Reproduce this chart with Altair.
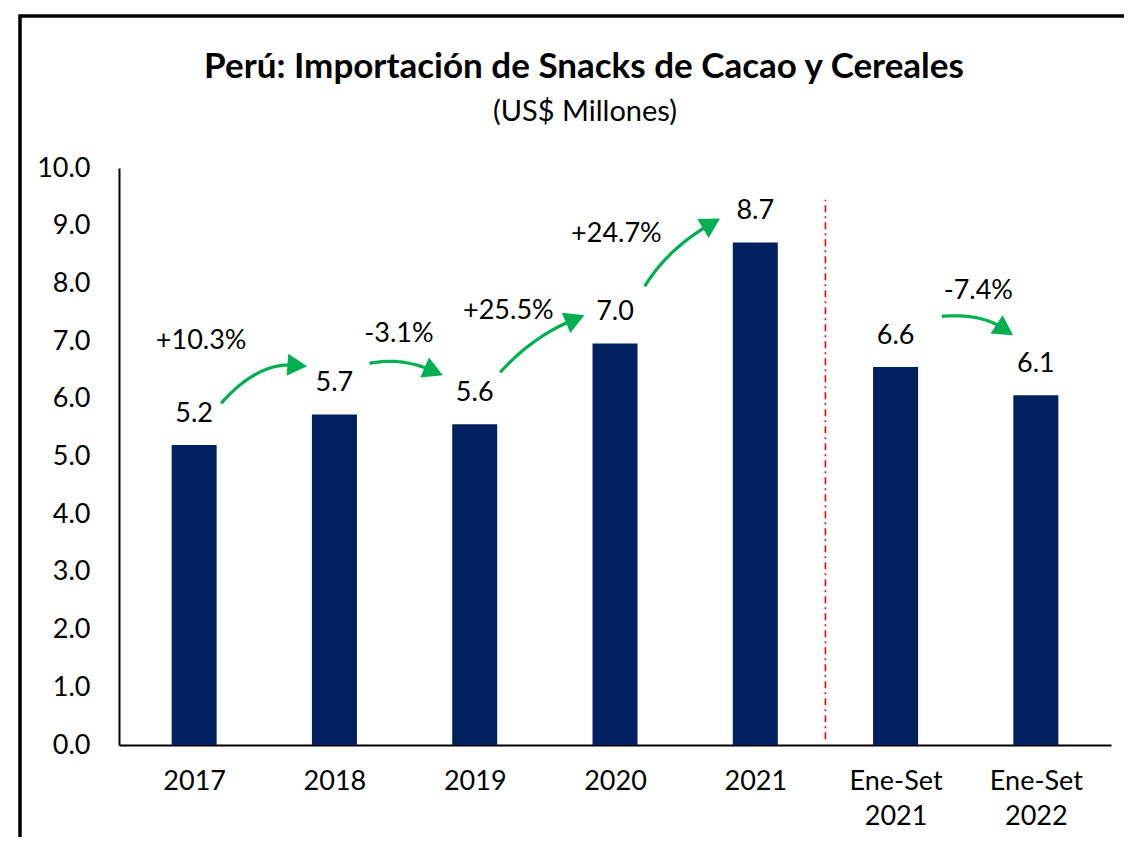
import math
import json
import altair as alt
import pandas as pd

# ---------------- data ----------------
categories = ["2017", "2018", "2019", "2020", "2021", "Ene-Set 2021", "Ene-Set 2022"]
category_lines = [["2017"], ["2018"], ["2019"], ["2020"], ["2021"],
                  ["Ene-Set", "2021"], ["Ene-Set", "2022"]]
values = [5.20, 5.73, 5.56, 6.96, 8.71, 6.55, 6.06]
value_labels = ["5.2", "5.7", "5.6", "7.0", "8.7", "6.6", "6.1"]

pct_labels = ["+10.3%", "-3.1%", "+25.5%", "+24.7%", "-7.4%"]
pct_x = [0.05, 1.46, 2.24, 3.01, 5.59]
pct_y = [7.00, 7.13, 7.53, 8.85, 7.86]

# arrows (annotation geometry in data units): start, bend control, tip
arrow_start_x = [0.192, 1.250, 2.182, 3.212, 5.329]
arrow_start_y = [5.922, 6.615, 6.459, 7.948, 7.429]
arrow_ctrl_x = [0.453, 1.476, 2.407, 3.367, 5.604]
arrow_ctrl_y = [6.632, 6.719, 7.065, 8.571, 7.481]
arrow_tip_x = [0.805, 1.772, 2.781, 3.748, 5.837]
arrow_tip_y = [6.563, 6.407, 7.446, 9.126, 7.100]

separator_x = 4.5
separator_y = [0.1, 9.45]

title_text = "Perú: Importación de Snacks de Cacao y Cereales"
subtitle_text = "(US$ Millones)"

# ---------------- layout ----------------
W, H = 992, 577
SX = W / 7.0     # px per x unit
SY = H / 10.0    # px per y unit
FONT = "Lato"
GREEN = "#00B050"
NAVY = "#002060"
FS = 27

bars = pd.DataFrame({"idx": list(range(len(categories))), "cat": categories,
                     "value": values, "label": value_labels})
pcts = pd.DataFrame({"x": pct_x, "y": pct_y, "label": pct_labels})

line_rows, head_rows = [], []
HEAD = 22.0
for i in range(len(arrow_start_x)):
    p0 = (arrow_start_x[i] * SX, -arrow_start_y[i] * SY)
    p1 = (arrow_ctrl_x[i] * SX, -arrow_ctrl_y[i] * SY)
    tp = (arrow_tip_x[i] * SX, -arrow_tip_y[i] * SY)
    dx, dy = tp[0] - p1[0], tp[1] - p1[1]
    n = math.hypot(dx, dy)
    dx, dy = dx / n, dy / n
    p2 = (tp[0] - dx * 14, tp[1] - dy * 14)
    steps = 30
    for k in range(steps + 1):
        t = k / steps
        x = (1 - t) ** 2 * p0[0] + 2 * (1 - t) * t * p1[0] + t ** 2 * p2[0]
        y = (1 - t) ** 2 * p0[1] + 2 * (1 - t) * t * p1[1] + t ** 2 * p2[1]
        line_rows.append({"arrow": i, "order": k, "x": x / SX, "y": -y / SY})
    c = (tp[0] - dx * 0.9 * HEAD / 2, tp[1] - dy * 0.9 * HEAD / 2)
    ang = math.degrees(math.atan2(dy, dx)) % 360
    head_rows.append({"arrow": i, "x": c[0] / SX, "y": -c[1] / SY, "angle": ang})

lines_df = pd.DataFrame(line_rows)
heads_df = pd.DataFrame(head_rows)
sep_df = pd.DataFrame({"x": [separator_x], "y": [separator_y[0]], "y2": [separator_y[1]]})

label_expr = json.dumps(category_lines) + "[datum.value]"

xscale = alt.Scale(domain=[-0.5, 6.5], nice=False, zero=False)
yscale = alt.Scale(domain=[0, 10], nice=False)

x_axis = alt.Axis(values=list(range(7)), labelExpr=label_expr, title=None, ticks=False,
                  grid=False, domainColor="black", domainWidth=2, labelFontSize=FS,
                  labelFont=FONT, labelColor="black", labelPadding=23, labelLineHeight=35,
                  labelBaseline="top")
y_axis = alt.Axis(values=list(range(11)), format=".1f", title=None, ticks=False, grid=False,
                  domainColor="black", domainWidth=2, labelFontSize=FS, labelFont=FONT,
                  labelColor="black", labelPadding=29)

base = alt.Chart(bars)

bar_layer = base.mark_bar(size=45, color=NAVY).encode(
    x=alt.X("idx:Q", scale=xscale, axis=x_axis),
    y=alt.Y("value:Q", scale=yscale, axis=y_axis),
)

val_text = base.mark_text(font=FONT, fontSize=FS, baseline="alphabetic", dy=-23, color="black").encode(
    x=alt.X("idx:Q", scale=xscale), y=alt.Y("value:Q", scale=yscale), text="label:N")

pct_text = alt.Chart(pcts).mark_text(font=FONT, fontSize=FS, baseline="middle", color="black").encode(
    x=alt.X("x:Q", scale=xscale), y=alt.Y("y:Q", scale=yscale), text="label:N")

arrow_lines = alt.Chart(lines_df).mark_line(color=GREEN, strokeWidth=3.2).encode(
    x=alt.X("x:Q", scale=xscale), y=alt.Y("y:Q", scale=yscale),
    detail="arrow:N", order="order:Q")

arrow_heads = alt.Chart(heads_df).mark_point(
    shape="M-0.9,-1L0.9,0L-0.9,1Z", size=HEAD * HEAD, filled=True, color=GREEN, opacity=1,
    strokeWidth=0).encode(
    x=alt.X("x:Q", scale=xscale), y=alt.Y("y:Q", scale=yscale),
    angle=alt.Angle("angle:Q", scale=None))

sep_rule = alt.Chart(sep_df).mark_rule(color="#FF0000", strokeWidth=1.6, strokeDash=[7, 4, 2, 4]).encode(
    x=alt.X("x:Q", scale=xscale), y=alt.Y("y:Q", scale=yscale), y2="y2:Q")

one = pd.DataFrame({"a": [0]})
frame = alt.Chart(one).mark_rect(
    fill=None, fillOpacity=0, stroke="black", strokeWidth=3.5).encode(
    x=alt.value(-99), x2=alt.value(1200), y=alt.value(-152), y2=alt.value(900))

title_mark = alt.Chart(one).mark_text(
    font=FONT, fontSize=35, fontWeight="bold", color="black", baseline="middle", align="center",
    text=title_text).encode(x=alt.value(465), y=alt.value(-101))
subtitle_mark = alt.Chart(one).mark_text(
    font=FONT, fontSize=29, color="black", baseline="middle", align="center",
    text=subtitle_text).encode(x=alt.value(466), y=alt.value(-56))

chart = alt.layer(frame, sep_rule, bar_layer, val_text, arrow_lines, arrow_heads, pct_text,
                  title_mark, subtitle_mark).properties(
    width=W, height=H,
    autosize=alt.AutoSizeParams(type="none"),
    padding={"left": 111, "top": 160, "right": 13, "bottom": 92},
).configure_view(stroke=None)

chart.save("out.html", embed_options={"renderer": "svg", "actions": False})
